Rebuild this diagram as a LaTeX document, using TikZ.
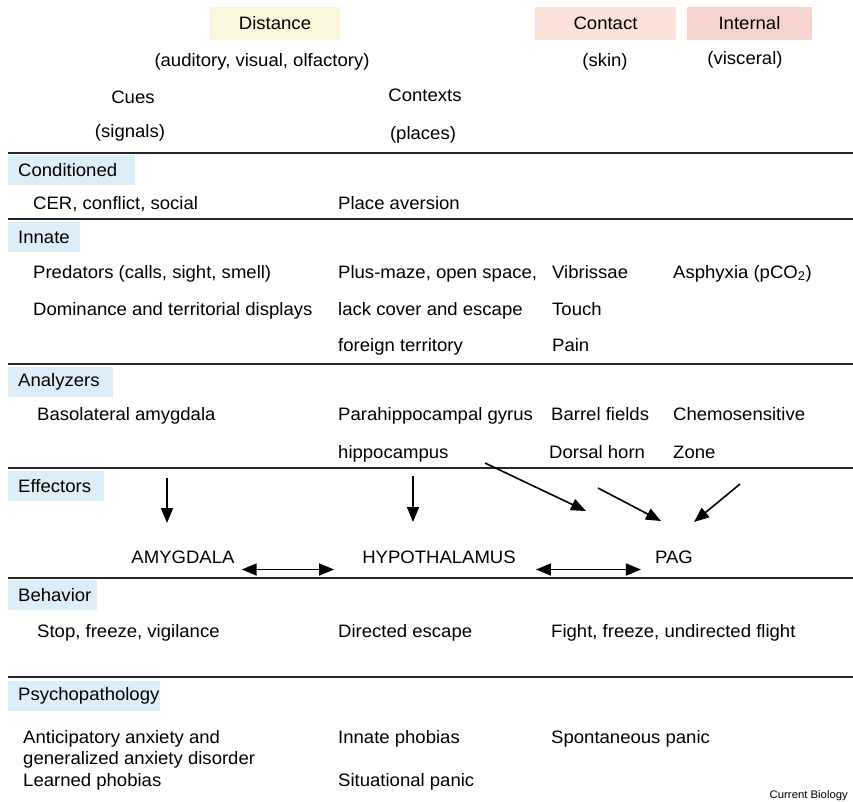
\documentclass[tikz,border=0pt]{standalone}
\usepackage{fontspec}
\setmainfont{Liberation Sans}[FakeStretch=1.03]
\usetikzlibrary{arrows.meta}
\definecolor{distfill}{HTML}{FCF6DD}
\definecolor{contfill}{HTML}{FBE3DC}
\definecolor{intfill}{HTML}{F6D3CF}
\definecolor{labblue}{HTML}{DDEEF8}
\begin{document}
\begin{tikzpicture}[x=1pt,y=-1pt,
  every node/.style={font=\fontsize{18}{19}\selectfont},
  txt/.style={anchor=base west, inner sep=0pt},
  ctxt/.style={anchor=base, inner sep=0pt},
  hdr/.style={minimum height=33pt, inner sep=0pt},
  lab/.style={fill=labblue, anchor=north west, inner xsep=10pt, inner ysep=0pt, minimum height=30pt, align=left},
  rule/.style={line width=2.2pt, black!85},
  arr/.style={line width=1.6pt, -{Triangle[length=15pt,width=12pt]}},
  dbl/.style={line width=1.8pt, {Triangle[length=15pt,width=12pt]}-{Triangle[length=15pt,width=12pt]}}
]
\useasboundingbox (0,0) rectangle (853,801);
% header
\node[hdr, fill=distfill, minimum width=130pt] (dist) at (275,23.5) {Distance};
\node[hdr, fill=contfill, minimum width=141pt] (cont) at (605.5,23.5) {Contact};
\node[hdr, fill=intfill, minimum width=125pt] (intl) at (749.5,23.5) {Internal};
\node[ctxt] (dsub) at (262,66) {(auditory, visual, olfactory)};
\node[ctxt] (csub) at (605,66) {(skin)};
\node[ctxt] (isub) at (745,64) {(visceral)};
\node[ctxt] (cues) at (133,103) {Cues};
\node[ctxt] (ctx) at (425,101) {Contexts};
\node[ctxt] (sig) at (130,137) {(signals)};
\node[ctxt] (plc) at (423,139) {(places)};
% rules
\coordinate (r1a) at (8,153); \coordinate (r1b) at (853,153);
\coordinate (r2a) at (8,219); \coordinate (r2b) at (853,219);
\coordinate (r3a) at (8,364); \coordinate (r3b) at (853,364);
\coordinate (r4a) at (8,468); \coordinate (r4b) at (853,468);
\coordinate (r5a) at (8,578); \coordinate (r5b) at (853,578);
\coordinate (r6a) at (8,677); \coordinate (r6b) at (853,677);
\draw[rule] (r1a) -- (r1b);
\draw[rule] (r2a) -- (r2b);
\draw[rule] (r3a) -- (r3b);
\draw[rule] (r4a) -- (r4b);
\draw[rule] (r5a) -- (r5b);
\draw[rule] (r6a) -- (r6b);
% Conditioned
\node[lab, text width=107pt] (lcond) at (8,155) {Conditioned};
\node[txt] (cer) at (33,209) {CER, conflict, social};
\node[txt] (plav) at (338,209) {Place aversion};
% Innate
\node[lab, text width=52pt] (linn) at (8,222) {Innate};
\node[txt] (pred) at (33,278) {Predators (calls, sight, smell)};
\node[txt] (plus) at (338,278) {Plus-maze, open space,};
\node[txt] (vib) at (552,278) {Vibrissae};
\node[txt] (asph) at (673,278) {Asphyxia (pCO\textsubscript{2})};
\node[txt] (dom) at (33,315) {Dominance and territorial displays};
\node[txt] (lack) at (338,315) {lack cover and escape};
\node[txt] (touch) at (552,315) {Touch};
\node[txt] (foreign) at (338,351) {foreign territory};
\node[txt] (pain) at (552,351) {Pain};
% Analyzers
\node[lab, text width=85pt] (lana) at (8,367) {Analyzers};
\node[txt] (bla) at (37,420) {Basolateral amygdala};
\node[txt] (para) at (338,420) {Parahippocampal gyrus};
\node[txt] (barrel) at (551,420) {Barrel fields};
\node[txt] (chemo) at (673,420) {Chemosensitive};
\node[txt] (hippo) at (338,458) {hippocampus};
\node[txt] (dorsal) at (549,458) {Dorsal horn};
\node[txt] (zone) at (673,458) {Zone};
% Effectors
\node[lab, text width=76pt] (leff) at (8,471) {Effectors};
\coordinate (a1s) at (167,478); \coordinate (a1e) at (167,523);
\coordinate (a2s) at (413,476); \coordinate (a2e) at (413,522);
\coordinate (a3s) at (485,463); \coordinate (a3e) at (586,511);
\coordinate (a4s) at (598,488); \coordinate (a4e) at (661,521);
\coordinate (a5s) at (740,484); \coordinate (a5e) at (694,522);
\draw[arr] (a1s) -- (a1e);
\draw[arr] (a2s) -- (a2e);
\draw[arr] (a3s) -- (a3e);
\draw[arr] (a4s) -- (a4e);
\draw[arr] (a5s) -- (a5e);
\node[ctxt] (amy) at (183,563) {AMYGDALA};
\node[ctxt] (hyp) at (439,563) {HYPOTHALAMUS};
\node[ctxt] (pag) at (674,563) {PAG};
\draw[dbl] ([xshift=7pt,yshift=-6.5pt]amy.base east) -- ([xshift=-28pt,yshift=-6.5pt]hyp.base west);
\draw[dbl] ([xshift=20pt,yshift=-6.5pt]hyp.base east) -- ([xshift=-14pt,yshift=-6.5pt]pag.base west);
% Behavior
\node[lab, text width=69pt] (lbeh) at (8,580) {Behavior};
\node[txt] (stop) at (37,637) {Stop, freeze, vigilance};
\node[txt] (direc) at (338,637) {Directed escape};
\node[txt] (fight) at (551,637) {Fight, freeze, undirected flight};
% Psychopathology
\node[lab, text width=132pt] (lpsy) at (8,681) {Psychopathology};
\node[txt] (antic) at (23,743) {Anticipatory anxiety and};
\node[txt] (gener) at (23,764) {generalized anxiety disorder};
\node[txt] (learn) at (23,786) {Learned phobias};
\node[txt] (innph) at (338,743) {Innate phobias};
\node[txt] (situ) at (338,786) {Situational panic};
\node[txt] (spont) at (551,743) {Spontaneous panic};
\node[anchor=base east, inner sep=0pt, font=\fontsize{11}{12}\selectfont] (cb) at (848,798) {Current Biology};
\end{tikzpicture}
\end{document}
